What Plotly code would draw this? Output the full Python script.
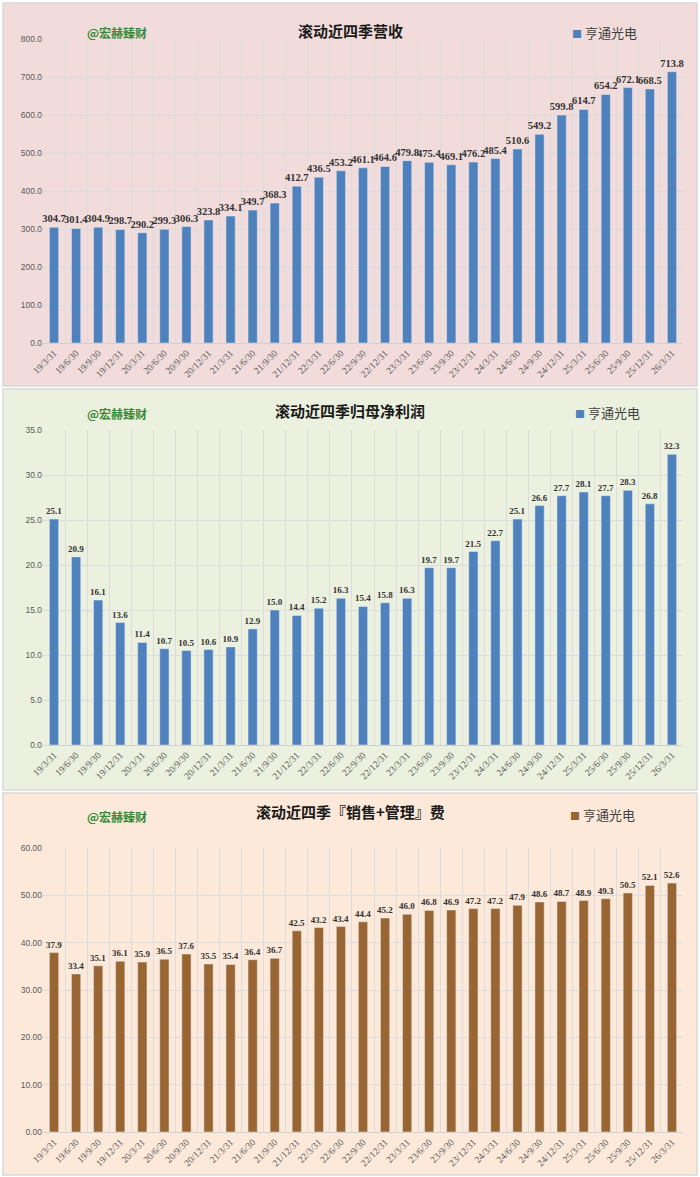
"""Three stacked rolling-4Q bar charts for 亨通光电."""
import plotly.graph_objects as go

quarters = [
    "19/3/31", "19/6/30", "19/9/30", "19/12/31",
    "20/3/31", "20/6/30", "20/9/30", "20/12/31",
    "21/3/31", "21/6/30", "21/9/30", "21/12/31",
    "22/3/31", "22/6/30", "22/9/30", "22/12/31",
    "23/3/31", "23/6/30", "23/9/30", "23/12/31",
    "24/3/31", "24/6/30", "24/9/30", "24/12/31",
    "25/3/31", "25/6/30", "25/9/30", "25/12/31",
    "26/3/31",
]
revenue = [
    304.7, 301.4, 304.9, 298.7, 290.2, 299.3, 306.3, 323.8,
    334.1, 349.7, 368.3, 412.7, 436.5, 453.2, 461.1, 464.6,
    479.8, 475.4, 469.1, 476.2, 485.4, 510.6, 549.2, 599.8,
    614.7, 654.2, 672.1, 668.5, 713.8,
]
net_profit = [
    25.1, 20.9, 16.1, 13.6, 11.4, 10.7, 10.5, 10.6,
    10.9, 12.9, 15.0, 14.4, 15.2, 16.3, 15.4, 15.8,
    16.3, 19.7, 19.7, 21.5, 22.7, 25.1, 26.6, 27.7,
    28.1, 27.7, 28.3, 26.8, 32.3,
]
expenses = [
    37.9, 33.4, 35.1, 36.1, 35.9, 36.5, 37.6, 35.5,
    35.4, 36.4, 36.7, 42.5, 43.2, 43.4, 44.4, 45.2,
    46.0, 46.8, 46.9, 47.2, 47.2, 47.9, 48.6, 48.7,
    48.9, 49.3, 50.5, 52.1, 52.6,
]
company = "亨通光电"
watermark = "@宏赫臻财"

H = 1177


def py(px):
    return 1 - px / H


CJK = "Noto Sans CJK SC"
SERIF = "Liberation Serif"
SANS = "Liberation Sans"
panels = [
    dict(title="滚动近四季营收", values=revenue, color="#4f81bd",
         bg="#f2dcdb", box=(3, 386), plot=(39, 343), title_y=18,
         rng=[0, 800], dtick=100, fmt=".1f", lbl_size=10.5,
         wm_y=22, leg_x=570, leg_y=21),
    dict(title="滚动近四季归母净利润", values=net_profit, color="#4f81bd",
         bg="#ebf1de", box=(389, 790), plot=(430, 745), title_y=410,
         rng=[0, 35], dtick=5, fmt=".1f", lbl_size=9,
         wm_y=413, leg_x=573, leg_y=412),
    dict(title="滚动近四季『销售+管理』费", values=expenses, color="#996633",
         bg="#fde9d9", box=(793, 1175), plot=(848, 1132), title_y=824,
         rng=[0, 60], dtick=10, fmt=".2f", lbl_size=9,
         wm_y=827, leg_x=568, leg_y=826),
]

fig = go.Figure()
shapes, annotations = [], []
x_dom = [43 / 700, 683 / 700]

for i, p in enumerate(panels):
    n = "" if i == 0 else str(i + 1)
    fig.add_trace(go.Bar(
        x=quarters, y=p["values"], name=company,
        marker=dict(color=p["color"]),
        text=p["values"], texttemplate="%{y:.1f}", textposition="outside",
        textfont=dict(size=p["lbl_size"], color="#333333", family=SERIF,
                      weight="bold"),
        constraintext="none", cliponaxis=False, showlegend=False,
        xaxis="x" + n, yaxis="y" + n,
    ))
    shapes.append(dict(
        type="rect", xref="paper", yref="paper", layer="below",
        x0=3 / 700, x1=697 / 700, y0=py(p["box"][1]), y1=py(p["box"][0]),
        fillcolor=p["bg"], line=dict(color="#d9d9d9", width=1.5),
    ))
    annotations.append(dict(
        text=f"<b>{p['title']}</b>", xref="paper", yref="paper",
        x=0.5, y=py(p["title_y"]), showarrow=False,
        font=dict(size=15, color="#1a1a1a", family=CJK),
    ))
    annotations.append(dict(
        text=f"<b>{watermark}</b>", xref="paper", yref="paper",
        x=85 / 700, y=py(p["wm_y"]), showarrow=False,
        font=dict(size=12, color="#3a8a3a", family=CJK),
    ))
    # legend drawn as a text entry like the original's small square marker
    annotations.append(dict(
        text=(f"<span style='color:{p['color']};font-size:10px'>■</span>"
              f" {company}"),
        xref="paper", yref="paper", x=p["leg_x"] / 700, y=py(p["leg_y"]),
        xanchor="left", showarrow=False,
        font=dict(size=13, color="#404040", family=CJK),
    ))
    fig.update_layout(**{
        "xaxis" + n: dict(
            domain=x_dom, anchor="y" + n, type="category", automargin=False,
            tickangle=-45,
            tickfont=dict(size=9.5, color="#595959", family=SERIF),
            showgrid=True, gridcolor="#dcdcdc", tickson="boundaries",
            ticks="", showline=True, linecolor="#d0d0d0",
        ),
        "yaxis" + n: dict(
            domain=[py(p["plot"][1]), py(p["plot"][0])], anchor="x" + n,
            range=p["rng"], dtick=p["dtick"], tickformat=p["fmt"],
            automargin=False,
            tickfont=dict(size=8.5, color="#595959", family=SANS),
            showgrid=True, gridcolor="#dcdcdc", zeroline=False,
        ),
    })

fig.update_layout(
    width=700, height=H,
    margin=dict(l=0, r=0, t=0, b=0, autoexpand=False),
    paper_bgcolor="white", plot_bgcolor="rgba(0,0,0,0)",
    bargap=0.58, shapes=shapes, annotations=annotations,
    font=dict(family=CJK), showlegend=False,
)

fig.write_html(
    "out.html",
    config={"displayModeBar": False},
    post_script="document.body.style.margin='0';",
)
